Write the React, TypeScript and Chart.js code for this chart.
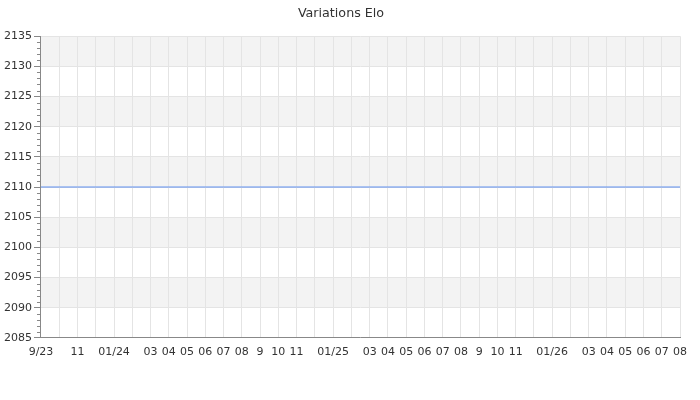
import React, { useEffect, useRef } from "react";
import { Chart, registerables } from "chart.js";

Chart.register(...registerables);

const chartTitle = "Variations Elo";
const monthLabels = [
  "9/23", "", "11", "", "01/24", "", "03", "04", "05", "06", "07", "08",
  "9", "10", "11", "", "01/25", "", "03", "04", "05", "06", "07", "08",
  "9", "10", "11", "", "01/26", "", "03", "04", "05", "06", "07", "08",
];
const eloValues = [
  2110, 2110, 2110, 2110, 2110, 2110, 2110, 2110, 2110, 2110, 2110, 2110,
  2110, 2110, 2110, 2110, 2110, 2110, 2110, 2110, 2110, 2110, 2110, 2110,
  2110, 2110, 2110, 2110, 2110, 2110, 2110, 2110, 2110, 2110, 2110, 2110,
];
const yMin = 2085;
const yMax = 2135;
const yStep = 5;
const yMinorStep = 1;

const FONT = "'DejaVu Sans', sans-serif";

const bandsPlugin = {
  id: "bands",
  beforeDraw(chart: any) {
    const { ctx, chartArea, scales } = chart;
    const y = scales.y;
    ctx.save();
    ctx.fillStyle = "#f3f3f3";
    for (let v = yMin; v < yMax; v += yStep) {
      const idx = Math.round((v - yMin) / yStep);
      if (idx % 2 === 1) {
        const top = y.getPixelForValue(v + yStep);
        const bot = y.getPixelForValue(v);
        ctx.fillRect(chartArea.left, top, chartArea.right - chartArea.left, bot - top);
      }
    }
    ctx.restore();
  },
  afterDraw(chart: any) {
    const { ctx, chartArea, scales } = chart;
    const y = scales.y;
    ctx.save();
    ctx.strokeStyle = "#888888";
    ctx.lineWidth = 1;
    for (let v = yMin; v <= yMax; v += yMinorStep) {
      if ((v - yMin) % yStep === 0) continue;
      const py = Math.round(y.getPixelForValue(v)) + 0.5;
      ctx.beginPath();
      ctx.moveTo(chartArea.left - 4, py);
      ctx.lineTo(chartArea.left, py);
      ctx.stroke();
    }
    ctx.restore();
  },
};

export default function App() {
  const ref = useRef<HTMLCanvasElement>(null);
  useEffect(() => {
    document.body.style.margin = "0";
    const chart = new Chart(ref.current!, {
      type: "line",
      data: {
        labels: monthLabels,
        datasets: [
          {
            data: eloValues,
            borderColor: "#5b8def",
            borderWidth: 1,
            pointRadius: 0,
            fill: false,
            tension: 0,
          },
        ],
      },
      options: {
        animation: false,
        responsive: false,
        layout: { padding: { left: 2, right: 20, top: 0, bottom: 33 } },
        plugins: {
          legend: { display: false },
          tooltip: { enabled: false },
          title: {
            display: true,
            text: chartTitle,
            color: "#333333",
            font: { family: FONT, size: 12.7, weight: "normal" },
            padding: { top: 6, bottom: 15 },
          },
        },
        scales: {
          x: {
            type: "category",
            offset: false,
            grid: { color: "#e4e4e4", drawTicks: false },
            border: { color: "#888888" },
            ticks: {
              autoSkip: false,
              maxRotation: 0,
              minRotation: 0,
              padding: 8,
              color: "#333333",
              font: { family: FONT, size: 11 },
            },
          },
          y: {
            min: yMin,
            max: yMax,
            grid: { color: "#e4e4e4", tickColor: "#888888", tickLength: 7 },
            border: { color: "#888888" },
            ticks: {
              stepSize: yStep,
              padding: 2,
              color: "#333333",
              font: { family: FONT, size: 11 },
              callback: (v: any) => String(v),
            },
          },
        },
      },
      plugins: [bandsPlugin],
    });
    return () => chart.destroy();
  }, []);
  return <canvas ref={ref} width={700} height={400} style={{ display: "block" }} />;
}
